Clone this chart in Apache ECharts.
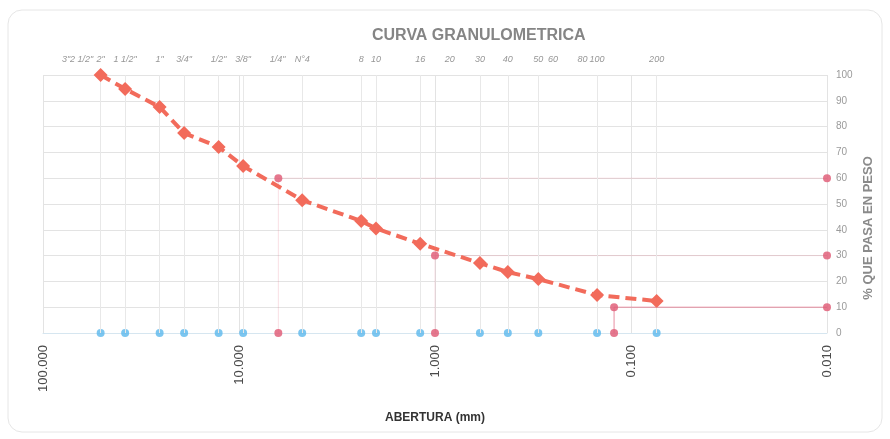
<!DOCTYPE html>
<html><head><meta charset="utf-8">
<script src="https://cdn.jsdelivr.net/npm/echarts@6/dist/echarts.min.js"></script>
<style>html,body{margin:0;padding:0;background:#fff}#c{width:890px;height:439px}</style>
</head><body><div id="c"></div>
<script>
// Sieve names shown along the top and their openings (mm)
const sieveLabels = ['3"', '2 1/2"', '2"', '1 1/2"', '1"', '3/4"', '1/2"', '3/8"', '1/4"', 'N°4', '8', '10', '16', '20', '30', '40', '50', '60', '80', '100', '200'];
const sieveSizes = [76.2, 63.5, 50.8, 38.1, 25.4, 19.05, 12.7, 9.525, 6.35, 4.76, 2.38, 2.0, 1.19, 0.84, 0.59, 0.425, 0.297, 0.25, 0.177, 0.149, 0.074];
// Sieves used in the test and % passing
const testSizes = [50.8, 38.1, 25.4, 19.05, 12.7, 9.525, 4.76, 2.38, 2.0, 1.19, 0.59, 0.425, 0.297, 0.149, 0.074];
const passing = [100, 94.6, 87.6, 77.5, 72.1, 64.7, 51.5, 43.4, 40.5, 34.6, 27.1, 23.6, 20.9, 14.7, 12.4];
// D60, D30, D10
const dLevels = [60, 30, 10];
const dSizes = [6.3, 1.0, 0.122];
// Axis ranges
const xMin = 0.01, xMax = 100;
const yTicks = [0, 10, 20, 30, 40, 50, 60, 70, 80, 90, 100];

const chart = echarts.init(document.getElementById('c'));
const pink = '#e0607a';
const series = [];

// test sieves at 0 % with light drop lines
series.push({
  type: 'scatter', name: 'ensayo', symbol: 'circle', symbolSize: 8,
  itemStyle: { color: '#5bb8ec' },
  data: testSizes.map(s => [s, 0]),
  z: 3,
  markLine: {
    silent: true, symbol: 'none', label: { show: false },
    lineStyle: { color: '#e8e8e8', type: 'solid', width: 1 },
    data: testSizes.map(s => [{ coord: [s, 0] }, { coord: [s, 100] }])
  }
});

// D lines
dLevels.forEach((lv, i) => {
  series.push({
    type: 'line', name: 'D' + lv,
    data: [[xMin, lv], [dSizes[i], lv], [dSizes[i], 0]],
    symbol: 'circle', symbolSize: 8,
    lineStyle: { color: pink, width: 1, opacity: i === 2 ? 0.7 : 0.2 },
    itemStyle: { color: pink, opacity: 0.85 },
    z: 4
  });
});

// curve
series.push({
  type: 'line', name: 'curva',
  data: testSizes.map((s, i) => [s, passing[i]]),
  symbol: 'diamond', symbolSize: 14,
  lineStyle: { color: '#f26b5b', width: 4, type: [11, 6] },
  itemStyle: { color: '#f26b5b' },
  z: 5
});

// sieve names along the top
series.push({
  type: 'scatter', name: 'tamices', symbolSize: 0, silent: true,
  data: sieveSizes.map((s, i) => ({ value: [s, 100], name: sieveLabels[i] })),
  label: {
    show: true, position: 'top', distance: 11, formatter: p => p.name,
    fontSize: 9, fontStyle: 'italic', color: '#7a7a7a', fontFamily: 'Liberation Sans'
  },
  clip: false, z: 2
});

chart.setOption({
  animation: false,
  backgroundColor: '#fff',
  textStyle: { fontFamily: 'Liberation Sans' },
  title: {
    text: 'CURVA GRANULOMETRICA', left: 367, top: 23,
    textStyle: { fontSize: 16, fontWeight: 'bold', color: '#858585', fontFamily: 'Liberation Sans' }
  },
  grid: { left: 43, right: 63, top: 75, bottom: 106 },
  xAxis: {
    type: 'log', logBase: 10, min: xMin, max: xMax, inverse: true,
    name: 'ABERTURA (mm)', nameLocation: 'middle', nameGap: 79,
    nameTextStyle: { fontSize: 12, fontWeight: 'bold', color: '#333' },
    axisLine: { lineStyle: { color: '#d6e6f0' } },
    axisTick: { show: false },
    axisLabel: { rotate: 90, margin: 12, fontSize: 13, color: '#4a4a4a', formatter: v => Number(v).toFixed(3) },
    splitLine: { show: true, lineStyle: { color: '#e3e3e3' } }
  },
  yAxis: {
    type: 'value', position: 'right', min: yTicks[0], max: yTicks[yTicks.length - 1], interval: 10,
    axisLine: { show: false }, axisTick: { show: false },
    axisLabel: { margin: 9, fontSize: 10, color: '#9a9a9a' },
    splitLine: { lineStyle: { color: '#e3e3e3' } }
  },
  graphic: [
    { type: 'rect', shape: { x: 8, y: 10, width: 874, height: 422, r: 14 }, style: { fill: 'none', stroke: '#e6e6e6', lineWidth: 1 }, z: -1 },
    { type: 'text', x: 868, y: 228, rotation: Math.PI / 2,
      style: { text: '% QUE PASA EN PESO', font: 'bold 13px "Liberation Sans"', fill: '#8a8a8a', textAlign: 'center', textVerticalAlign: 'middle' } }
  ],
  series: series
});
</script></body></html>
